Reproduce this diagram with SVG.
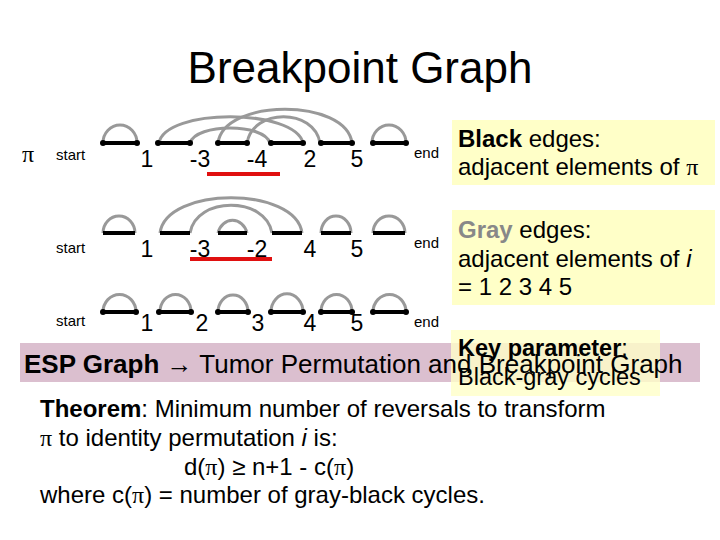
<svg xmlns="http://www.w3.org/2000/svg" width="720" height="540" viewBox="0 0 720 540">
<style>
text{font-family:"Liberation Sans",Arial,sans-serif;fill:#000}
.b{stroke:#000;stroke-width:4;stroke-linecap:round}
.g{fill:none;stroke:#999;stroke-width:3}
.r{stroke:#e01010;stroke-width:4}
.sm{font-size:15px}
.n{font-size:23px}
.t{font-size:24px}
.bx{font-size:24px}
.box{fill:#ffffc8}
.pi{font-family:"Liberation Serif",serif}
</style>
<rect width="720" height="540" fill="#fff"/>
<text x="360" y="83" font-size="44" text-anchor="middle">Breakpoint Graph</text>
<text x="22" y="162" font-size="24" class="pi">π</text>
<g id="row1">
<text x="56" y="160" class="sm">start</text>
<text x="147" y="167" class="n" text-anchor="middle">1</text>
<text x="200" y="167" class="n" text-anchor="middle">-3</text>
<text x="257" y="167" class="n" text-anchor="middle">-4</text>
<text x="310" y="167" class="n" text-anchor="middle">2</text>
<text x="357" y="167" class="n" text-anchor="middle">5</text>
<text x="414" y="158" class="sm">end</text>
</g>
<g id="row2">
<text x="56" y="253" class="sm">start</text>
<text x="147" y="257" class="n" text-anchor="middle">1</text>
<text x="200" y="257" class="n" text-anchor="middle">-3</text>
<text x="257" y="257" class="n" text-anchor="middle">-2</text>
<text x="310" y="257" class="n" text-anchor="middle">4</text>
<text x="357" y="257" class="n" text-anchor="middle">5</text>
<text x="414" y="248" class="sm">end</text>
</g>
<g id="row3">
<text x="56" y="326" class="sm">start</text>
<text x="147" y="331" class="n" text-anchor="middle">1</text>
<text x="202" y="331" class="n" text-anchor="middle">2</text>
<text x="258" y="331" class="n" text-anchor="middle">3</text>
<text x="310" y="331" class="n" text-anchor="middle">4</text>
<text x="357" y="331" class="n" text-anchor="middle">5</text>
<text x="414" y="327" class="sm">end</text>
</g>
<g id="connectors">
<path class="g" d="M103 143 A17 18 0 0 1 137 143 M372 143 A17 18 0 0 1 406 143"/>
<path class="g" d="M159 143 C165 108 295 108 303 143"/>
<path class="g" d="M190 143 C196 123 264 123 270 143"/>
<path class="g" d="M218 143 C224 98 346 98 352 143"/>
<path class="g" d="M247 143 C253 108 314 108 320 143"/>
<path class="b" d="M103 143H137M158 143H190M218 143H247M271 143H303M321 143H352M373 143H406"/>
<circle cx="103" cy="143" r="3"/><circle cx="137" cy="143" r="3"/><circle cx="158" cy="143" r="3"/><circle cx="190" cy="143" r="3"/><circle cx="218" cy="143" r="3"/><circle cx="247" cy="143" r="3"/><circle cx="271" cy="143" r="3"/><circle cx="303" cy="143" r="3"/><circle cx="321" cy="143" r="3"/><circle cx="352" cy="143" r="3"/><circle cx="373" cy="143" r="3"/><circle cx="406" cy="143" r="3"/>
<line class="r" x1="207" y1="174" x2="280" y2="174"/>
<path class="g" d="M103 233 A16 17 0 0 1 135 233 M218 233 A15 17 0 0 1 247 233 M321 233 A15 17 0 0 1 351 233 M373 233 A16 17 0 0 1 405 233"/>
<path class="g" d="M160 233 C166 186 296 186 302 233"/>
<path class="g" d="M190 233 C196 196 266 196 272 233"/>
<path class="b" style="stroke-linecap:butt" d="M103 233H135M160 233H190M218 233H247M272 233H302M321 233H351M373 233H405"/>
<line class="r" x1="190" y1="259" x2="272" y2="259"/>
<path class="g" d="M103 312 A16 17 0 0 1 136 312 M160 312 A15 17 0 0 1 191 312 M218 312 A15 17 0 0 1 248 312 M271 312 A15 17 0 0 1 303 312 M321 312 A15 17 0 0 1 352 312 M373 312 A16 17 0 0 1 406 312"/>
<path class="b" d="M103 312H136M159 312H191M218 312H248M271 312H303M321 312H352M373 312H406"/>
<circle cx="103" cy="312" r="3"/><circle cx="136" cy="312" r="3"/><circle cx="159" cy="312" r="3"/><circle cx="191" cy="312" r="3"/><circle cx="218" cy="312" r="3"/><circle cx="248" cy="312" r="3"/><circle cx="271" cy="312" r="3"/><circle cx="303" cy="312" r="3"/><circle cx="321" cy="312" r="3"/><circle cx="352" cy="312" r="3"/><circle cx="373" cy="312" r="3"/><circle cx="406" cy="312" r="3"/>
</g>
<g id="box-black">
<rect class="box" x="452" y="120" width="263" height="65"/>
<text x="458" y="147" class="bx"><tspan font-weight="bold">Black</tspan> edges:</text>
<text x="458" y="175" class="bx">adjacent elements of <tspan class="pi">π</tspan></text>
</g>
<g id="box-gray">
<rect class="box" x="452" y="210" width="263" height="95"/>
<text x="458" y="238" class="bx"><tspan font-weight="bold" fill="#888">Gray</tspan> edges:</text>
<text x="458" y="267" class="bx">adjacent elements of <tspan font-style="italic">i</tspan></text>
<text x="458" y="295" class="bx">= 1 2 3 4 5</text>
</g>
<g id="esp">
<rect x="20" y="343" width="680" height="39" fill="#dbbfcf"/>
<rect x="451" y="330" width="209" height="66" fill="#ffffc8" opacity="0.8"/>
<text x="24" y="373" font-size="26"><tspan font-weight="bold">ESP Graph</tspan> → Tumor Permutation and Breakpoint Graph</text>
<text x="458" y="356" font-size="23.5" font-weight="bold">Key parameter<tspan font-weight="normal">:</tspan></text>
<text x="458" y="385" font-size="23.5">Black-gray cycles</text>
</g>
<g id="theorem">
<text x="40" y="417" class="t"><tspan font-weight="bold">Theorem</tspan>: Minimum number of reversals to transform</text>
<text x="40" y="446" class="t"><tspan class="pi">π</tspan> to identity permutation <tspan font-style="italic">i</tspan> is:</text>
<text x="184" y="475" class="t">d(<tspan class="pi">π</tspan>) ≥ n+1 - c(<tspan class="pi">π</tspan>)</text>
<text x="40" y="503" class="t">where c(<tspan class="pi">π</tspan>) = number of gray-black cycles.</text>
</g>
</svg>
